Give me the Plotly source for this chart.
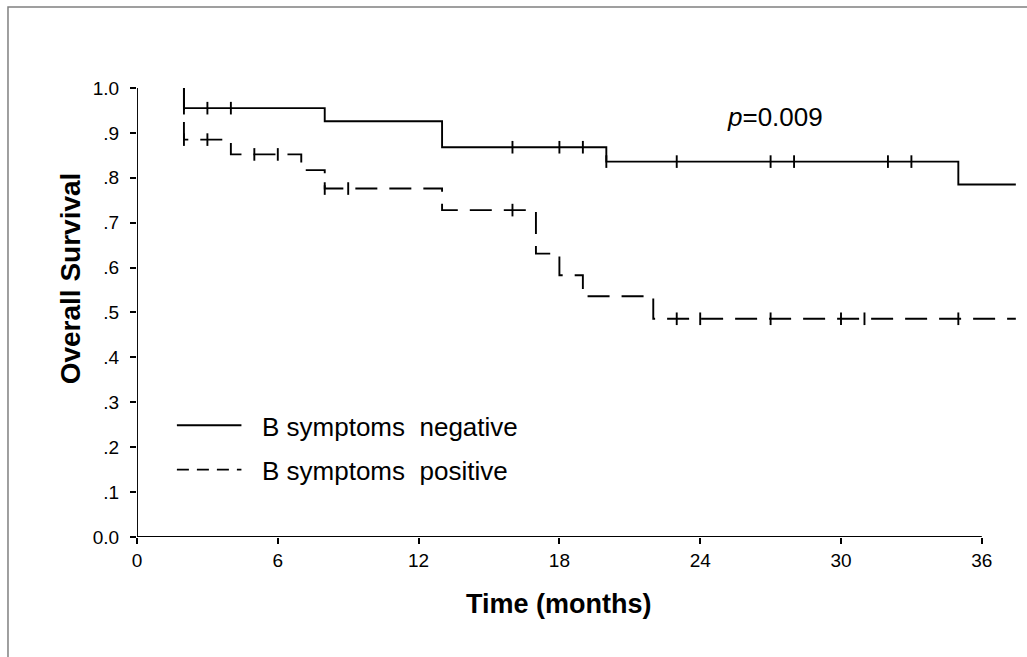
import plotly.graph_objects as go

# ---- data ----
neg_times = [2, 2, 8, 13, 20, 35, 37.45]
neg_surv = [1.0, 0.955, 0.926, 0.868, 0.836, 0.785, 0.785]
neg_cens_t = [2, 3, 4, 16, 18, 19, 20, 23, 27, 28, 32, 33]

pos_times = [2, 2, 4, 7, 8, 13, 17, 18, 19, 22, 37.45]
pos_surv = [1.0, 0.885, 0.852, 0.817, 0.776, 0.728, 0.631, 0.583, 0.536, 0.486, 0.486]
pos_cens_t = [2, 3, 5, 6, 8, 9, 16, 23, 24, 27, 30, 31, 35]

x_ticks = [0, 6, 12, 18, 24, 30, 36]
y_ticks = [0.0, 0.1, 0.2, 0.3, 0.4, 0.5, 0.6, 0.7, 0.8, 0.9, 1.0]
y_tick_text = ["0.0", ".1", ".2", ".3", ".4", ".5", ".6", ".7", ".8", ".9", "1.0"]

labels = ["B symptoms\u00a0\u00a0negative", "B symptoms\u00a0\u00a0positive"]
p_text = "<i>p</i>=0.009"
x_title = "<b>Time (months)</b>"
y_title = "<b>Overall Survival</b>"


def surv_at(times, surv, t):
    v = surv[0]
    for ti, si in zip(times, surv):
        if ti <= t:
            v = si
    return v


FONT = "Liberation Sans, Arial, sans-serif"
LW = 1.9
fig = go.Figure()

fig.add_trace(go.Scatter(x=neg_times, y=neg_surv, mode="lines", line_shape="hv",
                         line=dict(color="black", width=LW), showlegend=False, hoverinfo="skip"))
fig.add_trace(go.Scatter(x=pos_times, y=pos_surv, mode="lines", line_shape="hv",
                         line=dict(color="black", width=LW, dash="22px,12px"),
                         showlegend=False, hoverinfo="skip"))

fig.add_trace(go.Scatter(x=neg_cens_t, y=[surv_at(neg_times, neg_surv, t) for t in neg_cens_t],
                         mode="markers", marker=dict(symbol="line-ns", size=9,
                                                     line=dict(color="black", width=LW)),
                         showlegend=False, hoverinfo="skip"))
fig.add_trace(go.Scatter(x=pos_cens_t, y=[surv_at(pos_times, pos_surv, t) for t in pos_cens_t],
                         mode="markers", marker=dict(symbol="line-ns", size=9,
                                                     line=dict(color="black", width=LW)),
                         showlegend=False, hoverinfo="skip"))

# axis lines (x axis stops at 36, y axis stops at 1.0)
fig.add_shape(type="line", x0=0, x1=36, y0=0, y1=0, xref="x", yref="y",
              line=dict(color="black", width=LW))
fig.add_shape(type="line", x0=0, x1=0, y0=0, y1=1.0, xref="x", yref="y",
              line=dict(color="black", width=LW))

# legend drawn manually
fig.add_shape(type="line", x0=1.70, x1=4.45, y0=0.249, y1=0.249, xref="x", yref="y",
              line=dict(color="black", width=LW))
fig.add_shape(type="line", x0=1.70, x1=4.45, y0=0.150, y1=0.150, xref="x", yref="y",
              line=dict(color="black", width=LW, dash="12px,8px"))
fig.add_annotation(x=5.22, y=0.246, text=labels[0], showarrow=False, xanchor="left",
                   yanchor="middle", font=dict(family=FONT, size=26, color="black"))
fig.add_annotation(x=5.22, y=0.146, text=labels[1], showarrow=False, xanchor="left",
                   yanchor="middle", font=dict(family=FONT, size=26, color="black"))
fig.add_annotation(x=27.2, y=0.935, text=p_text, showarrow=False, xanchor="center",
                   yanchor="middle", font=dict(family=FONT, size=26, color="black"))

# axis titles
fig.add_annotation(x=18, xref="x", y=-0.1424, yref="paper", text=x_title, showarrow=False,
                   xanchor="center", yanchor="middle", font=dict(family=FONT, size=27, color="black"))
fig.add_annotation(x=-0.0755, xref="paper", y=0.553, yref="paper", text=y_title, showarrow=False,
                   textangle=-90, xanchor="center", yanchor="middle",
                   font=dict(family=FONT, size=28, color="black"))

# outer frame
fig.add_shape(type="rect", xref="paper", yref="paper", x0=-0.1466, x1=1.2, y0=1.1349, y1=-0.3,
              line=dict(color="#808080", width=1.5))

fig.update_layout(
    width=1027, height=657,
    margin=dict(l=137, r=10, t=70, b=120),
    plot_bgcolor="white", paper_bgcolor="white",
    font=dict(family=FONT, color="black"),
    xaxis=dict(range=[0, 37.5], tickvals=x_ticks, ticktext=[str(t) for t in x_ticks],
               ticks="outside", ticklen=6, tickwidth=1.5, tickcolor="black",
               showgrid=False, zeroline=False, showline=False,
               tickfont=dict(size=19)),
    yaxis=dict(range=[0, 1.04], tickvals=y_ticks, ticktext=y_tick_text,
               ticks="outside", ticklen=6, tickwidth=1.5, tickcolor="black",
               showgrid=False, zeroline=False, showline=False,
               ticklabelstandoff=7, tickfont=dict(size=19)),
)

fig.write_html("out.html")
